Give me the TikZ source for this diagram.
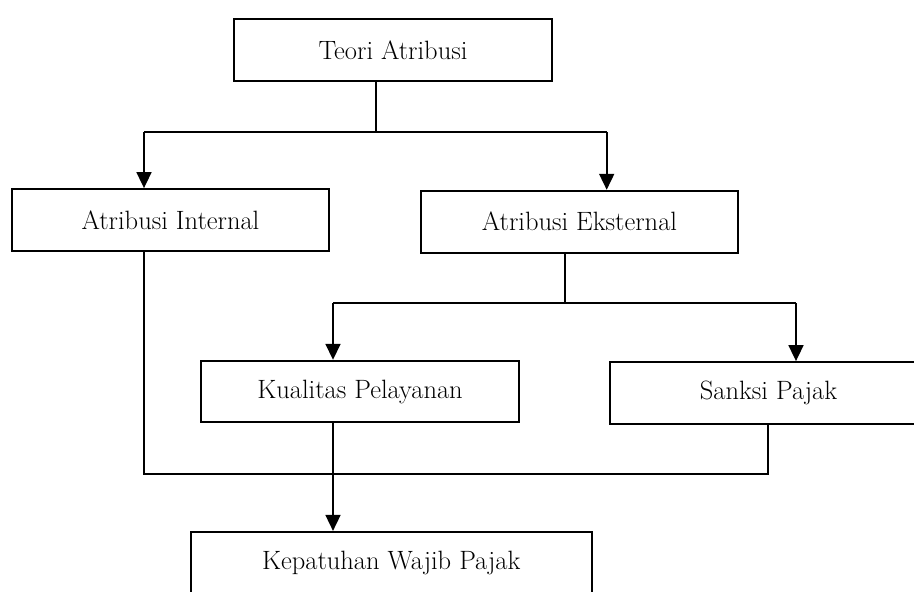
\documentclass[tikz,border=0pt]{standalone}
\usetikzlibrary{arrows.meta}
\begin{document}
\begin{tikzpicture}[x=1pt,y=-1pt,
  box/.style={draw=black, line width=1.8pt, fill=white, inner sep=0pt, font=\fontsize{26.5}{31}\selectfont},
  conn/.style={draw=black, line width=1.7pt},
  arr/.style={conn, -{Triangle[width=15pt,length=16pt]}}]
\useasboundingbox (0,0) rectangle (914,592);
\clip (0,0) rectangle (914,592);
\fill[white] (0,0) rectangle (914,592);
% nodes
\node[box, minimum width=318pt, minimum height=62pt] (teori) at (393,50) {Teori Atribusi};
\node[box, minimum width=317pt, minimum height=62pt] (internal) at (170.5,220) {Atribusi Internal};
\node[box, minimum width=317pt, minimum height=62pt] (eksternal) at (579.5,221.7) {Atribusi Eksternal};
\node[box, minimum width=318pt, minimum height=61.6pt] (kualitas) at (360,391.5) {Kualitas Pelayanan};
\node[box, minimum width=317pt, minimum height=62pt] (sanksi) at (768.5,393) {Sanksi Pajak};
\node[box, minimum width=401pt, minimum height=62pt] (kepatuhan) at (391.2,562.8) {Kepatuhan Wajib Pajak};
% junction coordinates
\coordinate (j1) at (376,132);
\coordinate (a1) at (144,132);
\coordinate (a2) at (606.7,132);
\coordinate (j2) at (565,303);
\coordinate (b1) at (333,303);
\coordinate (b2) at (796,303);
\coordinate (c1) at (144,474.3);
\coordinate (c2) at (767.7,474.3);
\coordinate (k1) at (333,474.3);
% connectors
\draw[conn] (j1 |- teori.south) -- (j1);
\draw[conn] (a1) -- (a2);
\draw[arr] (a1) -- (a1 |- internal.north);
\draw[arr] (a2) -- (a2 |- eksternal.north);
\draw[conn] (j2 |- eksternal.south) -- (j2);
\draw[conn] (b1) -- (b2);
\draw[arr] (b1) -- (b1 |- kualitas.north);
\draw[arr] (b2) -- (b2 |- sanksi.north);
\draw[conn] (c1 |- internal.south) -- (c1) -- (c2) -- (c2 |- sanksi.south);
\draw[arr] (k1 |- kualitas.south) -- (k1 |- kepatuhan.north);
\end{tikzpicture}
\end{document}
